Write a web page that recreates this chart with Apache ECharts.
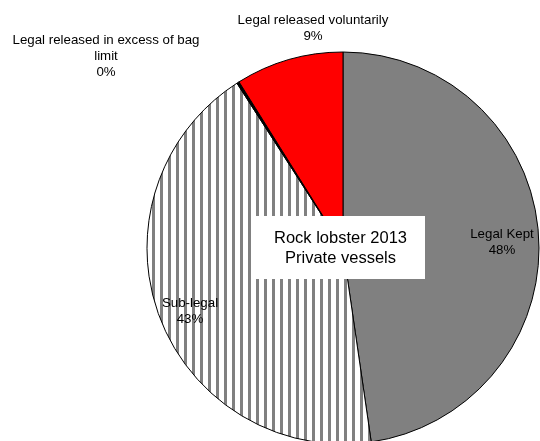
<!DOCTYPE html>
<html>
<head>
<meta charset="utf-8">
<script src="https://cdn.jsdelivr.net/npm/echarts@6/dist/echarts.min.js"></script>
<style>
  html, body { margin: 0; padding: 0; background: #fff; }
  #chart { width: 540px; height: 441px; }
</style>
</head>
<body>
<div id="chart"></div>
<script>
// Rock lobster catch fate, 2013, private vessels (share of fish, %)
const categories = [
  'Legal Kept',
  'Sub-legal',
  'Legal released in excess of bag limit',
  'Legal released voluntarily'
];
const values = [47.7, 43.2, 0.2, 8.9];
const titleLines = ['Rock lobster 2013', 'Private vessels'];

// Vertical stripe fill for the sub-legal slice
function stripePattern() {
  const c = document.createElement('canvas');
  c.width = 8; c.height = 8;
  const g = c.getContext('2d');
  g.fillStyle = '#ffffff';
  g.fillRect(0, 0, 8, 8);
  g.fillStyle = '#808080';
  g.fillRect(0, 0, 3, 8);
  return c;
}

const fills = [
  '#808080',
  { image: stripePattern(), repeat: 'repeat' },
  '#000000',
  '#ff0000'
];

// Label anchor points (label centre, px)
const labelPos = [
  [502, 242],
  [190, 311],
  [106, 56],
  [313, 28]
];

const FONT = 'Liberation Sans, Arial, sans-serif';
const chart = echarts.init(document.getElementById('chart'));

chart.setOption({
  animation: false,
  backgroundColor: '#ffffff',
  graphic: [{
    type: 'rect',
    x: 256,
    y: 216,
    z: 100,
    zlevel: 1,
    shape: { x: 0, y: 0, width: 169, height: 63 },
    style: { fill: '#ffffff' }
  }, {
    type: 'text',
    x: 340.5,
    y: 248.5,
    z: 101,
    zlevel: 1,
    style: {
      text: titleLines.join('\n'),
      fill: '#000000',
      font: '16.5px ' + FONT,
      align: 'center',
      verticalAlign: 'middle',
      lineHeight: 19.5
    }
  }],
  series: [{
    type: 'pie',
    center: [343, 248],
    radius: 196,
    startAngle: 90,
    clockwise: true,
    percentPrecision: 0,
    avoidLabelOverlap: false,
    data: categories.map((name, i) => ({
      name: name,
      value: values[i],
      itemStyle: { color: fills[i] }
    })),
    itemStyle: { borderColor: '#000000', borderWidth: 1 },
    emphasis: { disabled: true },
    label: {
      show: true,
      position: 'inside',
      formatter: p => (p.dataIndex === 2 ? 'Legal released in excess of bag\nlimit' : p.name) + '\n' + p.percent + '%',
      color: '#000000',
      fontFamily: FONT,
      fontSize: 13.3,
      lineHeight: 16,
      align: 'center',
      verticalAlign: 'middle'
    },
    labelLine: { show: false },
    labelLayout: p => ({
      x: labelPos[p.dataIndex][0],
      y: labelPos[p.dataIndex][1],
      align: 'center',
      verticalAlign: 'middle'
    })
  }]
});
</script>
</body>
</html>
